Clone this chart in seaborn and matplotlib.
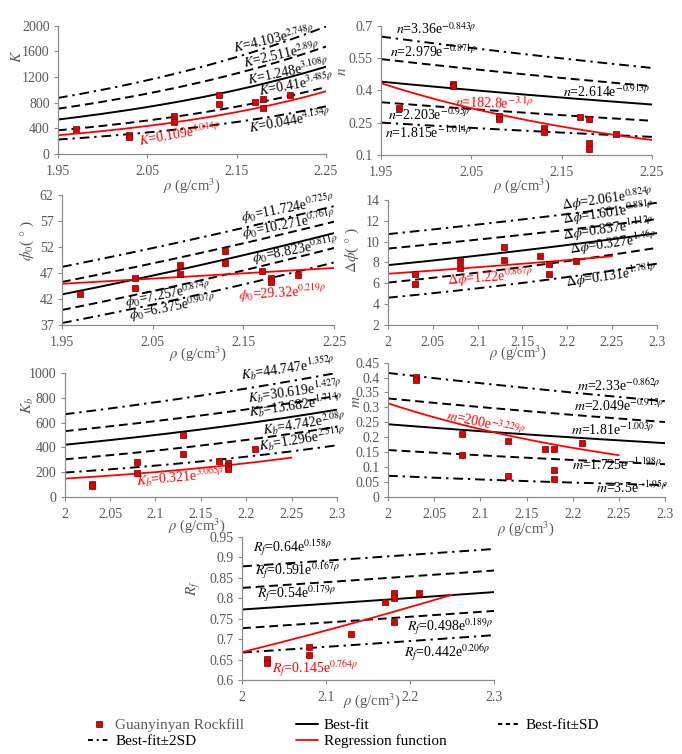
import numpy as np
import pandas as pd
import matplotlib
matplotlib.use("Agg")
import matplotlib.pyplot as plt
import seaborn as sns
from matplotlib.lines import Line2D
from matplotlib.ticker import FuncFormatter

sns.set_style("ticks")
plt.rcParams["font.family"] = ["Liberation Serif", "DejaVu Serif"]
plt.rcParams["mathtext.fontset"] = "stix"

# ---------------- data ----------------
# fit curve order: Best-fit+2SD, Best-fit+SD, Best-fit, Best-fit-SD, Best-fit-2SD  (y = a*exp(b*rho))
K_rho = [1.97, 2.03, 2.03, 2.08, 2.08, 2.13, 2.13, 2.17, 2.18, 2.18, 2.21]
K_val = [390, 300, 270, 585, 500, 910, 775, 805, 850, 710, 910]
K_a = [4.103, 2.511, 1.248, 0.41, 0.044]          # printed coefficients
K_b = [2.748, 2.89, 3.108, 3.485, 4.134]
K_curve_a = [4.103, 2.511, 1.248, 0.41, 0.0914]   # curves as drawn in the figure
K_curve_b = [2.748, 2.89, 3.108, 3.485, 4.0]
K_reg = [0.109, 4.044]

n_rho = [1.97, 2.03, 2.03, 2.08, 2.08, 2.13, 2.13, 2.17, 2.18, 2.18, 2.18, 2.21]
n_val = [0.32, 0.43, 0.42, 0.28, 0.27, 0.228, 0.21, 0.277, 0.27, 0.157, 0.131, 0.197]
n_a = [3.36, 2.979, 2.614, 2.203, 1.815]
n_b = [-0.843, -0.871, -0.913, -0.95, -1.014]
n_reg = [182.8, -3.1]

phi0_rho = [1.97, 2.03, 2.03, 2.08, 2.08, 2.13, 2.13, 2.17, 2.18, 2.18, 2.21]
phi0_val = [43.0, 46.0, 44.2, 48.6, 46.9, 51.2, 49.0, 47.4, 46.0, 45.2, 46.6]
phi0_a = [11.724, 10.271, 8.823, 7.257, 6.375]
phi0_b = [0.725, 0.761, 0.811, 0.874, 0.907]
phi0_reg = [29.32, 0.219]

dphi_rho = [2.03, 2.03, 2.08, 2.08, 2.13, 2.13, 2.17, 2.18, 2.18, 2.21]
dphi_val = [6.93, 5.94, 8.14, 7.44, 9.46, 8.24, 8.66, 7.86, 6.93, 8.11]
dphi_a = [2.061, 1.601, 0.837, 0.327, 0.131]
dphi_b = [0.824, 0.881, 1.112, 1.46, 1.781]
dphi_reg = [1.22, 0.867]

Kb_rho = [2.03, 2.03, 2.08, 2.08, 2.13, 2.13, 2.17, 2.18, 2.18, 2.18, 2.21]
Kb_val = [104, 88, 283, 190, 500, 350, 291, 278, 246, 225, 390]
Kb_a = [44.747, 30.619, 13.682, 4.742, 1.296]
Kb_b = [1.352, 1.427, 1.714, 2.08, 2.511]
Kb_reg = [0.321, 3.065]

m_rho = [2.03, 2.03, 2.08, 2.08, 2.13, 2.13, 2.17, 2.18, 2.18, 2.18, 2.21]
m_val = [0.401, 0.392, 0.211, 0.139, 0.189, 0.07, 0.16, 0.16, 0.09, 0.06, 0.181]
m_a = [2.33, 2.049, 1.81, 1.725, 3.5]
m_b = [-0.862, -0.913, -1.003, -1.198, -1.95]
m_reg = [200, -3.229]

Rf_rho = [2.03, 2.03, 2.08, 2.08, 2.13, 2.17, 2.18, 2.18, 2.18, 2.21]
Rf_val = [0.651, 0.642, 0.682, 0.661, 0.712, 0.792, 0.812, 0.801, 0.742, 0.812]
Rf_a = [0.64, 0.591, 0.54, 0.498, 0.442]
Rf_b = [0.158, 0.167, 0.179, 0.189, 0.206]
Rf_reg = [0.145, 0.764]

xticks_a = [1.95, 2.05, 2.15, 2.25]
xticks_b = [2, 2.05, 2.1, 2.15, 2.2, 2.25, 2.3]
xticks_c = [2, 2.1, 2.2, 2.3]
K_yticks = [0, 400, 800, 1200, 1600, 2000]
n_yticks = [0.1, 0.25, 0.4, 0.55, 0.7]
phi0_yticks = [37, 42, 47, 52, 57, 62]
dphi_yticks = [2, 4, 6, 8, 10, 12, 14]
Kb_yticks = [0, 200, 400, 600, 800, 1000]
m_yticks = [0, 0.05, 0.1, 0.15, 0.2, 0.25, 0.3, 0.35, 0.4, 0.45]
Rf_yticks = [0.6, 0.65, 0.7, 0.75, 0.8, 0.85, 0.9, 0.95]

legend_labels = ["Guanyinyan Rockfill", "Best-fit", "Best-fit\u00b1SD",
                 "Best-fit\u00b12SD", "Regression function"]

# ---------------- styling / layout ----------------
RED = "#ff0000"
GRAY = "#595959"
SPINE = "#8c8c8c"
LS_SD = (0, (4.5, 2.5))
LS_2SD = (0, (5, 2.5, 1.2, 2.5))
ls_order = [LS_2SD, LS_SD, "-", LS_SD, LS_2SD]

panels = [
    dict(sym="K", ylab=r"$K$", rho=K_rho, val=K_val, a=K_a, b=K_b,
         ca=K_curve_a, cb=K_curve_b, reg=K_reg,
         pos=[0.085, 0.796, 0.393, 0.170], xlim=(1.95, 2.25), ylim=(0, 2000),
         xt=xticks_a, yt=K_yticks, regx=(1.95, 2.25),
         ylc=(-0.125, 0.76), xlc=(0.5, -0.17),
         lab=[(2.148, 1570, 13), (2.159, 1337, 13), (2.163, 1078, 12),
              (2.176, 896, 10), (2.165, 326, 10)], rlab=(2.0415, 119, 10)),
    dict(sym="n", ylab=r"$n$", rho=n_rho, val=n_val, a=n_a, b=n_b, reg=n_reg,
         pos=[0.559, 0.794, 0.397, 0.172], xlim=(1.95, 2.25), ylim=(0.1, 0.7),
         xt=xticks_a, yt=n_yticks, regx=(1.95, 2.25),
         ylc=(-0.118, 0.65), xlc=(0.52, -0.16),
         lab=[(1.966, 0.662, 0), (1.960, 0.554, 0), (2.151, 0.369, 0),
              (1.957, 0.262, 0), (1.954, 0.182, 0)], rlab=(2.032, 0.323, -2)),
    dict(sym=r"\phi_0", ylab=r"$\phi_0$( $\degree$ )", rho=phi0_rho, val=phi0_val,
         a=phi0_a, b=phi0_b, reg=phi0_reg,
         pos=[0.091, 0.569, 0.399, 0.172], xlim=(1.95, 2.25), ylim=(37, 62),
         xt=xticks_a, yt=phi0_yticks, regx=(1.95, 2.25),
         ylc=(-0.096, 0.65), xlc=(0.5, -0.15),
         lab=[(2.148, 56.9, 11), (2.150, 53.7, 11), (2.161, 48.9, 11),
              (2.020, 40.5, 11), (2.025, 38.0, 11)], rlab=(2.145, 41.8, 3)),
    dict(sym=r"\Delta\phi", ylab=r"$\Delta\phi$( $\degree$ )", rho=dphi_rho, val=dphi_val,
         a=dphi_a, b=dphi_b, reg=dphi_reg,
         pos=[0.569, 0.569, 0.394, 0.166], xlim=(2.0, 2.3), ylim=(2, 14),
         xt=xticks_b, yt=dphi_yticks, regx=(2.0, 2.25),
         ylc=(-0.10, 0.6), xlc=(0.485, -0.145),
         lab=[(2.194, 13.04, 8), (2.196, 11.66, 8), (2.196, 10.16, 8),
              (2.203, 8.78, 8), (2.199, 5.68, 8)], rlab=(2.066, 5.84, 4)),
    dict(sym="K_b", ylab=r"$K_b$", rho=Kb_rho, val=Kb_val, a=Kb_a, b=Kb_b, reg=Kb_reg,
         pos=[0.095, 0.341, 0.399, 0.164], xlim=(2.0, 2.3), ylim=(0, 1000),
         xt=xticks_b, yt=Kb_yticks, regx=(2.0, 2.25),
         ylc=(-0.107, 0.74), xlc=(0.485, -0.155),
         lab=[(2.195, 941, 8), (2.202, 754, 8), (2.204, 647, 8),
              (2.219, 500, 9), (2.215, 366, 9)], rlab=(2.079, 86, 5)),
    dict(sym="m", ylab=r"$m$", rho=m_rho, val=m_val, a=m_a, b=m_b, reg=m_reg,
         pos=[0.569, 0.341, 0.406, 0.178], xlim=(2.0, 2.3), ylim=(0, 0.45),
         xt=xticks_b, yt=m_yticks, regx=(2.0, 2.25),
         ylc=(-0.09, 0.71), xlc=(0.5, -0.165),
         lab=[(2.205, 0.355, 0), (2.201, 0.287, 0), (2.198, 0.208, 0),
              (2.199, 0.090, 0), (2.225, 0.0135, 0)], rlab=(2.062, 0.259, -12)),
    dict(sym="R_f", ylab=r"$R_f$", rho=Rf_rho, val=Rf_val, a=Rf_a, b=Rf_b, reg=Rf_reg,
         pos=[0.355, 0.098, 0.370, 0.19], xlim=(2.0, 2.3), ylim=(0.6, 0.95),
         xt=xticks_c, yt=Rf_yticks, regx=(2.0, 2.25),
         ylc=(-0.155, 0.64), xlc=(0.516, -0.075),
         lab=[(2.013, 0.913, 0), (2.015, 0.856, 0), (2.018, 0.799, 0),
              (2.196, 0.720, 0), (2.192, 0.657, 0)], rlab=(2.036, 0.616, 0)),
]

fig = plt.figure(figsize=(6.82, 7.54), dpi=100)
fmt = FuncFormatter(lambda v, p: f"{v:g}")
EQ_FS = 10


def eq_label(sym, a, b):
    return f"${sym}$={a:g}e$^{{{b:g}\\rho}}$"


for P in panels:
    ax = fig.add_axes(P["pos"])
    grid = np.linspace(P["xlim"][0], P["xlim"][1], 200)
    curves = pd.DataFrame({"rho": grid})
    ca = P.get("ca", P["a"])
    cb = P.get("cb", P["b"])
    for i, (a, b) in enumerate(zip(ca, cb)):
        curves["y"] = a * np.exp(b * grid)
        sns.lineplot(data=curves, x="rho", y="y", ax=ax, color="black",
                     lw=1.4, linestyle=ls_order[i], estimator=None, sort=False)
    rgrid = np.linspace(P["regx"][0], P["regx"][1], 200)
    rdf = pd.DataFrame({"rho": rgrid,
                        "y": P["reg"][0] * np.exp(P["reg"][1] * rgrid)})
    sns.lineplot(data=rdf, x="rho", y="y", ax=ax, color=RED, lw=1.3,
                 estimator=None, sort=False)
    pts = pd.DataFrame({"rho": P["rho"], "v": P["val"]})
    sns.scatterplot(data=pts, x="rho", y="v", ax=ax, marker="s", s=16,
                    color="#e00000", edgecolor="#6e0000", linewidth=0.5, zorder=5)

    for (x, y, r), a, b in zip(P["lab"], P["a"], P["b"]):
        ax.text(x, y, eq_label(P["sym"], a, b), fontsize=EQ_FS, color="black",
                rotation=r, rotation_mode="anchor", ha="left", va="baseline")
    x, y, r = P["rlab"]
    ax.text(x, y, eq_label(P["sym"], P["reg"][0], P["reg"][1]), fontsize=EQ_FS,
            color=RED, rotation=r, rotation_mode="anchor", ha="left", va="baseline")

    ax.set_xlim(*P["xlim"])
    ax.set_ylim(*P["ylim"])
    ax.set_xticks(P["xt"])
    ax.set_yticks(P["yt"])
    ax.xaxis.set_major_formatter(fmt)
    ax.yaxis.set_major_formatter(fmt)
    ax.tick_params(axis="both", direction="out", length=3, width=0.8,
                   color=SPINE, labelsize=10, labelcolor=GRAY, pad=3)
    ax.tick_params(axis="x", pad=5)
    for s in ["top", "right"]:
        ax.spines[s].set_visible(False)
    for s in ["left", "bottom"]:
        ax.spines[s].set_color(SPINE)
        ax.spines[s].set_linewidth(0.9)
    ax.set_xlabel(r"$\rho$ (g/cm$^3$)", fontsize=10.5, color=GRAY)
    ax.set_ylabel(P["ylab"], fontsize=11, color=GRAY)
    ax.yaxis.set_label_coords(*P["ylc"])
    ax.xaxis.set_label_coords(*P["xlc"])
    ax.patch.set_alpha(0)

handles = [
    Line2D([], [], ls="none", marker="s", markersize=4.5, markerfacecolor="#e00000",
           markeredgecolor="#6e0000", markeredgewidth=0.5),
    Line2D([], [], color="black", lw=1.4, ls=(0, (2.5, 2, 1, 2))),
    Line2D([], [], color="black", lw=1.4),
    Line2D([], [], color=RED, lw=1.3),
    Line2D([], [], color="black", lw=1.4, ls=(0, (2.2, 1.8))),
]
labels = [legend_labels[0], legend_labels[3], legend_labels[1],
          legend_labels[4], legend_labels[2]]
leg = fig.legend(handles, labels, loc="upper left", ncol=3,
                 bbox_to_anchor=(80 / 682, 1 - 711 / 754), frameon=False,
                 fontsize=11, handlelength=1.45, handletextpad=0.35,
                 columnspacing=3.4, borderpad=0, labelspacing=0.15)
for t in leg.get_texts():
    t.set_color("black")
leg.get_texts()[0].set_color(GRAY)

fig.savefig("out.png", dpi=100)
